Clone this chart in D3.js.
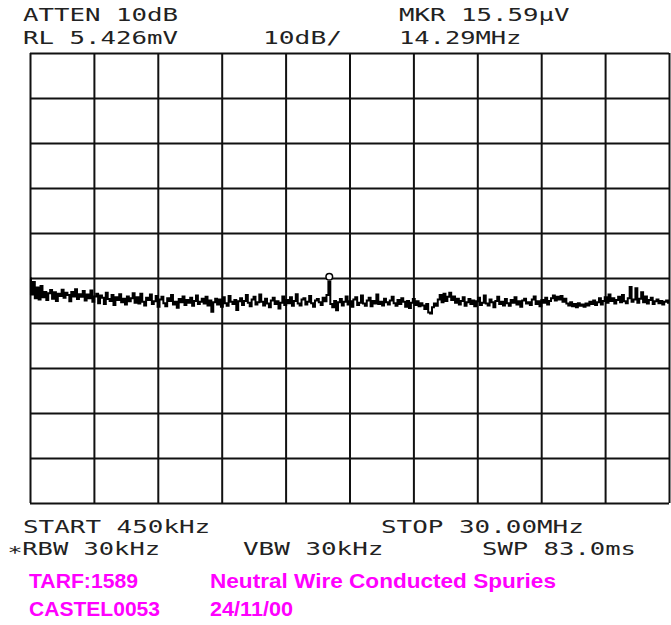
<!DOCTYPE html>
<html><head><meta charset="utf-8">
<script src="https://cdn.jsdelivr.net/npm/d3@7"></script>
<style>html,body{margin:0;padding:0;background:#fff;}svg{display:block;}</style>
</head><body>
<svg id="c" width="671" height="625"></svg>
<script>
// Instrument settings
const startMHz = 0.45, stopMHz = 30.0;
const refLevel_dBuV = 74.69;   // RL 5.426 mV
const dbPerDiv = 10, nDivX = 10, nDivY = 10;
const markerMHz = 14.29, marker_dBuV = 23.86; // 15.59 µV

// Trace (dBµV), equally spaced from START to STOP
const trace = [
 24.6,21.0,23.8,20.2,22.6,19.9,
 22.9,20.4,21.6,19.8,21.3,22.0,20.1,21.5,19.6,21.2,20.7,22.1,20.3,21.4,20.9,19.5,21.6,20.6,22.2,20.0,21.1,20.5,21.8,19.7,21.0,
 20.2,21.9,19.4,20.6,21.2,19.1,20.8,20.3,18.9,21.4,20.0,19.6,20.9,18.7,20.4,19.8,21.1,19.3,20.1,18.8,20.6,19.5,20.2,21.3,19.2,
 20.4,19.0,21.2,19.4,18.6,20.3,19.8,21.0,18.9,19.5,20.7,18.3,19.9,20.5,19.1,18.4,20.2,19.6,20.9,18.8,
 19.4,18.1,20.0,19.3,20.6,18.7,19.8,19.2,20.3,18.5,19.6,20.8,18.9,19.4,20.1,
 19.0,20.5,18.6,19.7,17.2,19.3,20.1,18.8,19.9,18.3,
 20.4,19.1,18.5,20.7,19.4,18.9,19.8,17.6,19.5,20.2,
 18.7,19.6,20.9,19.2,18.4,19.9,20.5,18.8,19.3,21.0,
 19.4,18.6,20.1,19.0,18.2,19.7,20.3,18.9,19.5,17.9,
 19.2,20.6,18.7,19.8,19.1,20.4,18.5,19.6,21.1,19.0,
 18.6,19.9,20.2,18.8,19.4,20.7,19.1,18.3,19.7,20.0,
 19.3,18.7,20.3,19.5,20.9,
 23.86,
 18.9,18.2,19.6,17.5,19.3,20.0,18.6,19.4,20.6,18.8,
 19.5,18.3,19.9,20.4,18.7,19.2,20.8,19.0,18.5,19.7,
 20.3,18.4,19.6,19.0,21.0,18.9,19.4,18.6,20.1,19.3,
 18.8,19.7,20.5,
 19.1,18.5,19.8,18.9,20.2,19.4,18.3,19.6,18.0,19.2,
 20.0,18.7,19.5,18.4,19.1,18.6,17.8,18.9,17.0,16.8,
 18.2,19.0,18.5,19.9,20.9,19.3,21.2,19.6,20.5,21.4,
 19.8,20.6,19.2,20.1,18.8,19.6,20.4,18.5,19.3,20.0,
 18.9,19.7,18.4,19.5,20.3,18.7,19.2,20.8,19.0,18.6,
 19.9,19.3,18.2,19.6,20.5,18.9,19.4,18.6,20.0,19.1,
 18.5,19.8,19.2,20.4,18.8,19.5,18.3,19.7,20.1,19.0,
 19.3,18.7,19.9,20.6,18.9,19.5,18.4,19.8,19.2,20.3,
 18.8,19.6,20.2,20.8,19.7,20.5,19.9,20.7,19.4,20.1,
 19.0,18.6,19.3,18.4,18.9,18.2,19.1,18.5,18.8,18.3,
 19.0,18.6,19.4,18.9,19.7,18.7,19.3,20.2,18.8,19.6,
 20.4,19.2,21.0,19.6,20.2,19.0,19.8,20.5,19.3,20.9,
 19.5,19.1,20.2,22.7,19.4,19.9,22.4,19.2,20.1,21.5,
 19.3,20.6,19.0,19.8,20.3,18.9,19.5,19.9,19.1,19.6,
 18.8,19.4,19.7,19.2
];

// Annotation texts
const topLeft = ["ATTEN 10dB", "RL 5.426mV"];
const topMid = "10dB/";
const topRight = ["MKR 15.59\u00b5V", "14.29MHz"];
const bottomRow1 = ["START 450kHz", "STOP 30.00MHz"];
const bottomRow2 = ["\u2217RBW 30kHz", "VBW 30kHz", "SWP 83.0ms"];
const labelLeft = ["TARF:1589", "CASTEL0053"];
const labelRight = ["Neutral Wire Conducted Spuries", "24/11/00"];

const svg = d3.select("#c");
const L = 30, R = 669, T = 53, B = 503;
const x = d3.scaleLinear().domain([startMHz, stopMHz]).range([L, R]);
const y = d3.scaleLinear().domain([refLevel_dBuV - dbPerDiv*nDivY, refLevel_dBuV]).range([B, T]);

// Grid via axes
const gx = d3.axisBottom(x).tickValues(d3.range(nDivX+1).map(i => startMHz + i*(stopMHz-startMHz)/nDivX))
  .tickSize(-(B-T)).tickFormat("");
const gy = d3.axisLeft(y).tickValues(d3.range(nDivY+1).map(i => refLevel_dBuV - i*dbPerDiv))
  .tickSize(-(R-L)).tickFormat("");
const gxg = svg.append("g").attr("transform", `translate(0,${B})`).call(gx);
const gyg = svg.append("g").attr("transform", `translate(${L},0)`).call(gy);
[gxg, gyg].forEach(g => {
  g.select(".domain").remove();
  g.selectAll("line").attr("stroke", "#111").attr("stroke-width", 2);
});

// Trace
const step = (stopMHz - startMHz) / (trace.length - 1);
const line = d3.line().x((d, i) => x(startMHz + i*step)).y(d => y(d)).curve(d3.curveStep);
svg.append("path").datum(trace).attr("d", line)
  .attr("fill", "none").attr("stroke", "#000").attr("stroke-width", 2).attr("stroke-linejoin", "miter");

// Marker
svg.append("circle").attr("cx", x(markerMHz)).attr("cy", y(marker_dBuV) - 5).attr("r", 3.3)
  .attr("fill", "#fff").attr("stroke", "#000").attr("stroke-width", 1.5);

// Instrument text
function itext(str, tx, ty, perChar) {
  svg.append("text").attr("x", tx).attr("y", ty).text(str)
    .attr("font-family", "'DejaVu Sans Mono', monospace").attr("font-size", 17)
    .attr("fill", "#222").attr("textLength", str.length * perChar).attr("lengthAdjust", "spacingAndGlyphs");
}
itext(topLeft[0], 23, 21, 15.5);
itext(topLeft[1], 23, 44, 15.5);
itext(topMid, 263, 44, 15.8);
itext(topRight[0], 399, 21, 15.5);
itext(topRight[1], 399, 44, 15.3);
itext(bottomRow1[0], 23, 533, 15.6);
itext(bottomRow1[1], 381, 533, 15.6);
itext(bottomRow2[0], 7, 555, 15.3);
itext(bottomRow2[1], 243, 555, 15.6);
itext(bottomRow2[2], 482, 555, 15.4);

// Magenta labels
function mtext(str, tx, ty, w) {
  svg.append("text").attr("x", tx).attr("y", ty).text(str)
    .attr("font-family", "'Liberation Sans', Arial, sans-serif").attr("font-weight", "bold")
    .attr("font-size", 21).attr("fill", "#ff00ff")
    .attr("textLength", w).attr("lengthAdjust", "spacingAndGlyphs");
}
mtext(labelLeft[0], 29, 588, 109);
mtext(labelLeft[1], 29, 616, 131);
mtext(labelRight[0], 210, 588, 346);
mtext(labelRight[1], 210, 616, 83);
</script>
</body></html>
